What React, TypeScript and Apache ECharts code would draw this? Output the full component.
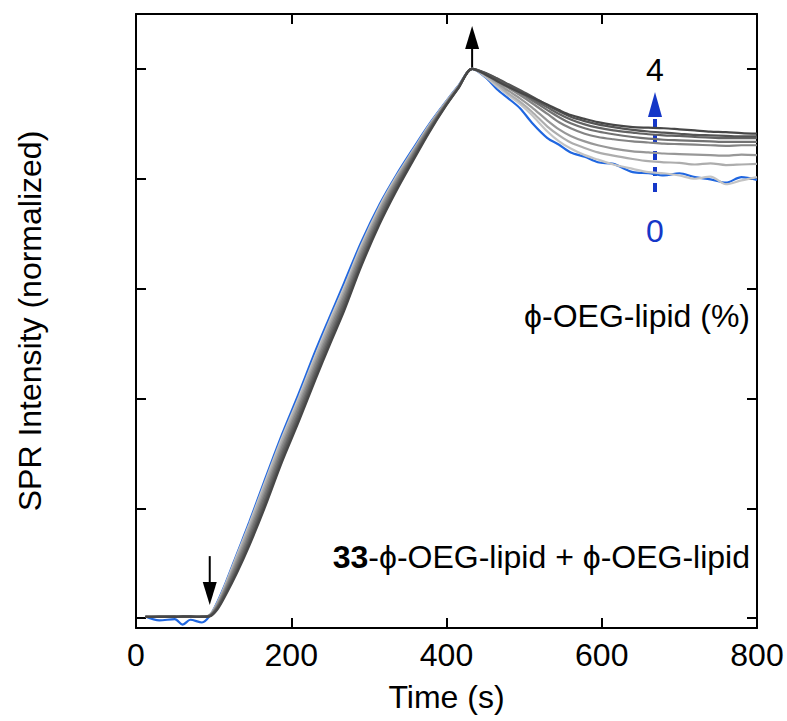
import React, { useEffect, useRef } from "react";
import * as echarts from "echarts";

// Time points (s)
const TIME = [12, 30, 50, 60, 70, 85, 95, 105, 116, 130, 146, 165, 188, 210, 231, 250, 268, 290, 314, 335, 357, 378, 399, 415, 433,
  450, 465, 480, 495, 510, 530, 545, 560, 578, 595, 615, 640, 660, 680, 700, 720, 740, 760, 780, 800];

// Normalized SPR intensity for each φ-OEG-lipid fraction (%)
const S0 = [0.003, -0.004, -0.002, -0.012, -0.003, -0.008, 0.004, 0.03, 0.066, 0.117, 0.175, 0.248, 0.334, 0.41, 0.486, 0.55, 0.61, 0.684, 0.754, 0.806, 0.855, 0.9, 0.94, 0.969, 1.0,
  0.985, 0.963, 0.946, 0.928, 0.902, 0.874, 0.862, 0.848, 0.84, 0.83, 0.827, 0.812, 0.81, 0.806, 0.81, 0.803, 0.799, 0.793, 0.803, 0.798];
const S05 = [0.002, 0.003, 0.002, 0.003, 0.003, 0.002, 0.006, 0.028, 0.064, 0.114, 0.171, 0.243, 0.328, 0.403, 0.478, 0.543, 0.602, 0.678, 0.75, 0.803, 0.852, 0.898, 0.939, 0.968, 1.0,
  0.986, 0.968, 0.952, 0.936, 0.916, 0.886, 0.868, 0.855, 0.843, 0.835, 0.826, 0.818, 0.812, 0.81, 0.806, 0.8, 0.804, 0.79, 0.797, 0.803];
const S1 = [0.002, 0.002, 0.003, 0.002, 0.003, 0.003, 0.005, 0.027, 0.061, 0.11, 0.166, 0.237, 0.322, 0.397, 0.472, 0.537, 0.596, 0.673, 0.746, 0.8, 0.85, 0.896, 0.938, 0.968, 1.0,
  0.988, 0.972, 0.955, 0.94, 0.922, 0.895, 0.879, 0.866, 0.856, 0.848, 0.842, 0.836, 0.832, 0.83, 0.829, 0.826, 0.828, 0.825, 0.826, 0.827];
const S15 = [0.003, 0.002, 0.002, 0.003, 0.002, 0.003, 0.005, 0.025, 0.058, 0.105, 0.16, 0.23, 0.315, 0.39, 0.465, 0.53, 0.59, 0.668, 0.742, 0.797, 0.848, 0.895, 0.937, 0.967, 1.0,
  0.99, 0.975, 0.96, 0.946, 0.93, 0.906, 0.89, 0.878, 0.868, 0.861, 0.855, 0.85, 0.848, 0.846, 0.845, 0.844, 0.843, 0.842, 0.844, 0.843];
const S2 = [0.002, 0.003, 0.003, 0.002, 0.003, 0.002, 0.005, 0.023, 0.055, 0.1, 0.154, 0.223, 0.309, 0.384, 0.459, 0.524, 0.584, 0.662, 0.737, 0.793, 0.845, 0.893, 0.936, 0.966, 1.0,
  0.99, 0.978, 0.965, 0.952, 0.938, 0.918, 0.903, 0.892, 0.882, 0.876, 0.872, 0.868, 0.866, 0.864, 0.863, 0.862, 0.861, 0.86, 0.861, 0.861];
const S25 = [0.002, 0.002, 0.003, 0.003, 0.002, 0.003, 0.004, 0.021, 0.052, 0.095, 0.148, 0.217, 0.302, 0.377, 0.452, 0.517, 0.577, 0.656, 0.732, 0.789, 0.842, 0.891, 0.935, 0.966, 1.0,
  0.992, 0.98, 0.968, 0.956, 0.943, 0.925, 0.912, 0.901, 0.892, 0.886, 0.881, 0.876, 0.873, 0.871, 0.87, 0.869, 0.868, 0.867, 0.867, 0.867];
const S3 = [0.003, 0.002, 0.002, 0.003, 0.003, 0.002, 0.004, 0.019, 0.049, 0.09, 0.142, 0.21, 0.296, 0.371, 0.446, 0.511, 0.571, 0.65, 0.727, 0.785, 0.839, 0.889, 0.934, 0.965, 1.0,
  0.992, 0.982, 0.97, 0.958, 0.946, 0.93, 0.918, 0.908, 0.899, 0.893, 0.888, 0.884, 0.881, 0.879, 0.878, 0.876, 0.875, 0.874, 0.874, 0.874];
const S35 = [0.002, 0.003, 0.003, 0.002, 0.002, 0.003, 0.004, 0.018, 0.046, 0.086, 0.137, 0.204, 0.29, 0.365, 0.44, 0.505, 0.565, 0.645, 0.722, 0.781, 0.836, 0.887, 0.933, 0.965, 1.0,
  0.993, 0.983, 0.972, 0.961, 0.95, 0.934, 0.923, 0.913, 0.905, 0.899, 0.894, 0.889, 0.886, 0.884, 0.882, 0.88, 0.879, 0.878, 0.877, 0.877];
const S4 = [0.002, 0.002, 0.002, 0.003, 0.003, 0.002, 0.003, 0.016, 0.043, 0.082, 0.132, 0.198, 0.284, 0.359, 0.434, 0.499, 0.559, 0.64, 0.718, 0.777, 0.833, 0.885, 0.932, 0.964, 1.0,
  0.99, 0.978, 0.967, 0.957, 0.948, 0.935, 0.925, 0.916, 0.909, 0.903, 0.898, 0.894, 0.893, 0.892, 0.89, 0.888, 0.886, 0.885, 0.883, 0.882];

const SERIES_NAMES = ["0", "0.5", "1", "1.5", "2", "2.5", "3", "3.5", "4"];
const SERIES_VALUES = [S0, S05, S1, S15, S2, S25, S3, S35, S4];
const SERIES_COLORS = ["#1f66e0", "#c4c4c4", "#adadad", "#989898", "#848484", "#727272", "#626262", "#545454", "#474747"];

const X_TICKS = [0, 200, 400, 600, 800];
const Y_TICKS = [0, 0.2, 0.4, 0.6, 0.8, 1.0];

const FONT = "'Liberation Sans', Arial, Helvetica, sans-serif";

export default function App() {
  const ref = useRef<HTMLDivElement>(null);

  useEffect(() => {
    if (!ref.current) return;
    const chart = echarts.init(ref.current, null, { renderer: "svg" });

    const axisLine = { show: true, onZero: false, lineStyle: { color: "#000", width: 2 } };
    const yCommon = {
      type: "value" as const,
      min: -0.018,
      max: 1.1,
      splitLine: { show: false },
      axisLine,
      axisLabel: { show: false },
      axisTick: { show: true, inside: true, length: 10, lineStyle: { color: "#000", width: 2 }, customValues: Y_TICKS },
    };
    const xCommon = {
      type: "value" as const,
      min: 0,
      max: 800,
      interval: 200,
      splitLine: { show: false },
      axisLine,
      axisTick: { show: true, inside: true, length: 10, lineStyle: { color: "#000", width: 2 }, customValues: X_TICKS },
    };

    chart.setOption({
      animation: false,
      backgroundColor: "#fff",
      grid: { left: 136, right: 30, top: 14, bottom: 93, containLabel: false },
      xAxis: [
        {
          ...xCommon,
          position: "bottom",
          name: "Time (s)",
          nameLocation: "middle",
          nameGap: 53,
          nameTextStyle: { fontSize: 32, color: "#000", fontFamily: FONT },
          axisLabel: { show: true, fontSize: 32, color: "#000", margin: 11, fontFamily: FONT, customValues: X_TICKS },
        },
        { ...xCommon, position: "top", axisLabel: { show: false } },
      ],
      yAxis: [
        {
          ...yCommon,
          position: "left",
          name: "SPR Intensity (normalized)",
          nameLocation: "middle",
          nameGap: 90,
          nameTextStyle: { fontSize: 32, color: "#000", fontFamily: FONT },
        },
        { ...yCommon, position: "right" },
      ],
      series: SERIES_VALUES.map((vals, i) => ({
        type: "line",
        name: SERIES_NAMES[i],
        data: TIME.map((t, j) => [t, vals[j]]),
        showSymbol: false,
        symbol: "none",
        smooth: 0.3,
        lineStyle: { color: SERIES_COLORS[i], width: 2.2 },
        z: 2 + i,
      })),
    });

    const up = chart.convertToPixel({ gridIndex: 0 }, [433, 1.0]) as number[];
    const down = chart.convertToPixel({ gridIndex: 0 }, [95, 0.0]) as number[];
    const blue = "#1537c8";

    chart.setOption({
      graphic: [
        // injection arrow (down)
        { type: "line", shape: { x1: down[0], y1: down[1] - 62, x2: down[0], y2: down[1] - 30 }, style: { stroke: "#000", lineWidth: 2 } },
        { type: "polygon", shape: { points: [[down[0], down[1] - 13], [down[0] - 7, down[1] - 36], [down[0] + 7, down[1] - 36]] }, style: { fill: "#000" } },
        // rinse arrow (up)
        { type: "line", shape: { x1: up[0], y1: up[1], x2: up[0], y2: up[1] - 22 }, style: { stroke: "#000", lineWidth: 2 } },
        { type: "polygon", shape: { points: [[up[0], up[1] - 43], [up[0] - 7, up[1] - 20], [up[0] + 7, up[1] - 20]] }, style: { fill: "#000" } },
        // blue dashed arrow 0 -> 4
        { type: "line", shape: { x1: 655, y1: 192, x2: 655, y2: 115 }, style: { stroke: blue, lineWidth: 4, lineDash: [9, 7] } },
        { type: "polygon", shape: { points: [[655, 92], [648, 117], [662, 117]] }, style: { fill: blue } },
        { type: "text", x: 655, y: 70, style: { text: "4", fontSize: 32, fill: "#000", fontFamily: FONT, align: "center", verticalAlign: "middle" } },
        { type: "text", x: 655, y: 231, style: { text: "0", fontSize: 32, fill: blue, fontFamily: FONT, align: "center", verticalAlign: "middle" } },
        { type: "text", x: 750, y: 316, style: { text: "ϕ-OEG-lipid (%)", fontSize: 32, fill: "#000", fontFamily: FONT, align: "right", verticalAlign: "middle" } },
        {
          type: "text",
          x: 750,
          y: 557,
          style: {
            text: "{b|33}-ϕ-OEG-lipid + ϕ-OEG-lipid",
            fontSize: 32,
            fill: "#000",
            fontFamily: FONT,
            align: "right",
            verticalAlign: "middle",
            rich: { b: { fontSize: 32, fontWeight: "bold", fontFamily: FONT, fill: "#000" } },
          },
        },
      ],
    });

    return () => chart.dispose();
  }, []);

  return <div ref={ref} style={{ position: "absolute", left: 0, top: 0, width: 787, height: 721 }} />;
}
